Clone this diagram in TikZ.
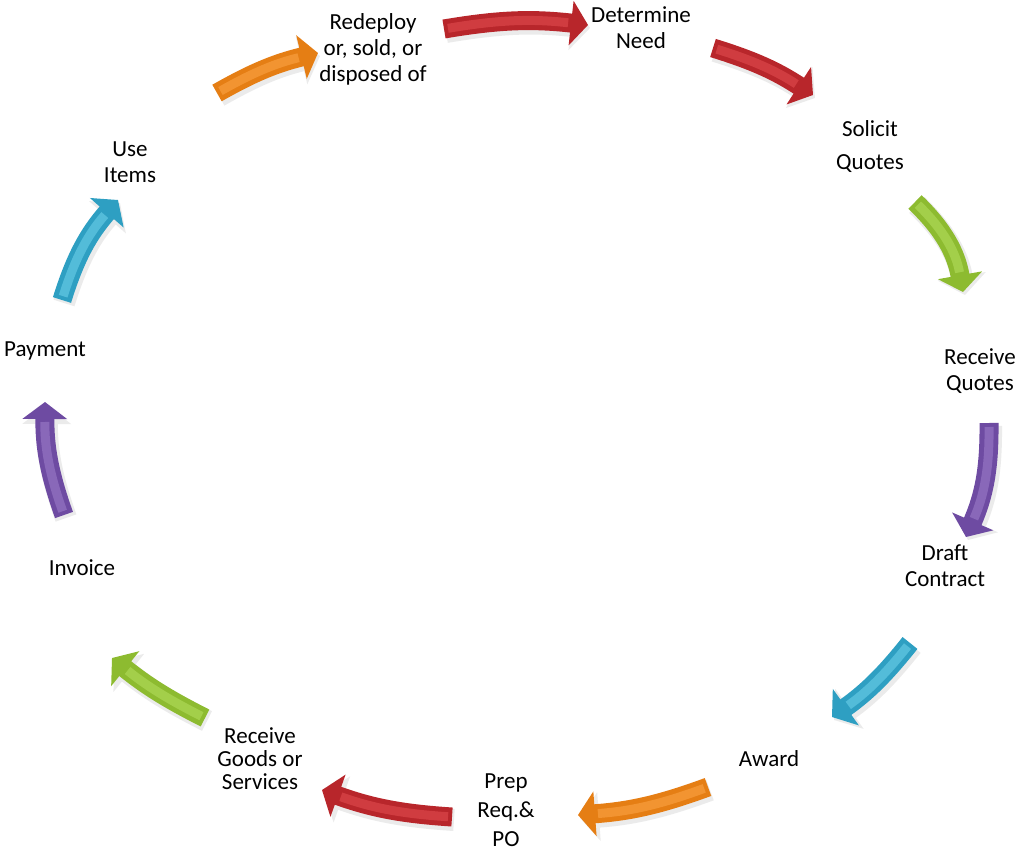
\documentclass[tikz,border=0pt]{standalone}
\usepackage{fontspec}
\setmainfont{Carlito}
\usetikzlibrary{arrows.meta}
\definecolor{redD}{HTML}{B8262B}
\definecolor{redL}{HTML}{D94448}
\definecolor{orD}{HTML}{E57E14}
\definecolor{orL}{HTML}{F79C3C}
\definecolor{grD}{HTML}{8DBB30}
\definecolor{grL}{HTML}{ABD654}
\definecolor{puD}{HTML}{6E4BA2}
\definecolor{puL}{HTML}{9372C2}
\definecolor{cyD}{HTML}{2E9FC2}
\definecolor{cyL}{HTML}{60C6E2}
\tikzset{
  lbl/.style={font=\fontsize{23}{26}\selectfont, align=center, inner sep=0pt},
  arrbody/.style={line width=19pt, -{Triangle[length=17pt,width=44pt]}},
  arrhi/.style={line width=9pt, shorten >=20pt, shorten <=4pt, opacity=0.75},
  arrsh/.style={line width=22pt, draw=black!8, -{Triangle[length=19pt,width=48pt]}},
}
\newcommand{\blockarrow}[5]{%
  \draw[arrsh] ([shift={(2,3)}]#1) to[bend left=#3] ([shift={(2,3)}]#2);
  \draw[arrbody, draw=#4] (#1) to[bend left=#3] (#2);
  \draw[arrhi, draw=#5] (#1) to[bend left=#3] (#2);
}
\begin{document}
\begin{tikzpicture}[x=1pt,y=-1pt]
\path[use as bounding box] (0,0) rectangle (1018,851);
% arrow end points
\coordinate (a1s) at (444,29);  \coordinate (a1e) at (588,25);
\coordinate (a2s) at (713,48);  \coordinate (a2e) at (813,95);
\coordinate (a3s) at (915,202); \coordinate (a3e) at (963,292);
\coordinate (a4s) at (989,423); \coordinate (a4e) at (966,537);
\coordinate (a5s) at (910,643); \coordinate (a5e) at (832,717);
\coordinate (a6s) at (708,787); \coordinate (a6e) at (578,815);
\coordinate (a7s) at (452,817); \coordinate (a7e) at (322,790);
\coordinate (a8s) at (205,718); \coordinate (a8e) at (112,658);
\coordinate (a9s) at (64,515);  \coordinate (a9e) at (45,402);
\coordinate (a10s) at (62,300); \coordinate (a10e) at (118,200);
\coordinate (a11s) at (217,93); \coordinate (a11e) at (318,53);
\blockarrow{a1s}{a1e}{8}{redD}{redL}
\blockarrow{a2s}{a2e}{8}{redD}{redL}
\blockarrow{a3s}{a3e}{18}{grD}{grL}
\blockarrow{a4s}{a4e}{12}{puD}{puL}
\blockarrow{a5s}{a5e}{8}{cyD}{cyL}
\blockarrow{a6s}{a6e}{8}{orD}{orL}
\blockarrow{a7s}{a7e}{8}{redD}{redL}
\blockarrow{a8s}{a8e}{6}{grD}{grL}
\blockarrow{a9s}{a9e}{10}{puD}{puL}
\blockarrow{a10s}{a10e}{12}{cyD}{cyL}
\blockarrow{a11s}{a11e}{8}{orD}{orL}
% labels
\node[lbl] (redeploy) at (373,49) {Redeploy\\or, sold, or\\disposed of};
\node[lbl] (need) at (641,28) {Determine\\Need};
\node[lbl, font=\fontsize{23}{33}\selectfont] (solicit) at (870,147) {Solicit\\Quotes};
\node[lbl] (recq) at (980,371) {Receive\\Quotes};
\node[lbl] (draft) at (945,566) {Draft\\Contract};
\node[lbl] (award) at (769,759) {Award};
\node[lbl, font=\fontsize{23}{29}\selectfont] (prep) at (506,810) {Prep\\Req.\&\\PO};
\node[lbl, font=\fontsize{23}{23}\selectfont] (goods) at (260,759) {Receive\\Goods or\\Services};
\node[lbl] (invoice) at (82,568) {Invoice};
\node[lbl] (payment) at (45,351) {Payment};
\node[lbl] (use) at (130,162) {Use\\Items};
\end{tikzpicture}
\end{document}
